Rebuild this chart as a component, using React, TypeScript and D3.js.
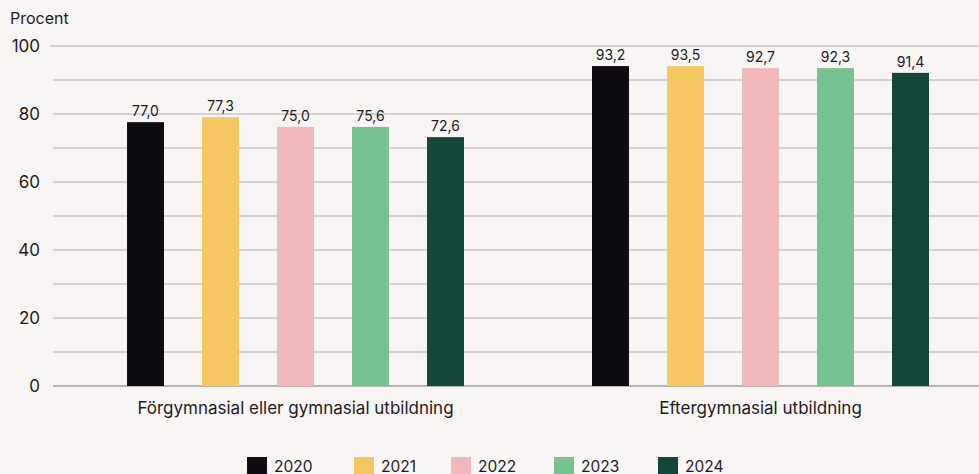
import React, {FC, useEffect} from "react";
import * as d3 from "d3";

const categories = ["Förgymnasial eller gymnasial utbildning", "Eftergymnasial utbildning"];
const years = ["2020", "2021", "2022", "2023", "2024"];
// printed value labels
const labels2020 = [77.0, 93.2];
const labels2021 = [77.3, 93.5];
const labels2022 = [75.0, 92.7];
const labels2023 = [75.6, 92.3];
const labels2024 = [72.6, 91.4];
// bar heights as drawn in the picture (they do not match the labels exactly)
const bars2020 = [77.6, 94.1];
const bars2021 = [79.1, 94.1];
const bars2022 = [76.2, 93.5];
const bars2023 = [76.2, 93.5];
const bars2024 = [73.2, 92.1];
const yTicks = [0, 20, 40, 60, 80, 100];

const colors = ["#0e0c10", "#f6c862", "#f1b9bb", "#78c291", "#12473a"];

const labels = [labels2020, labels2021, labels2022, labels2023, labels2024];
const bars = [bars2020, bars2021, bars2022, bars2023, bars2024];

const width = 979;
const height = 474;
const font = "Inter, 'Noto Sans', sans-serif";
const textColor = "#1d1b1e";
const legendX = [247, 354, 451, 554, 658];

const fmt = (v: number) => v.toFixed(1).replace(".", ",");

const Chart: FC = () => {
    const yScale = d3.scaleLinear().domain([0, 100]).range([386, 46]);

    const x0 = d3.scaleBand().domain(categories).range([63, 993]).padding(0);
    const x1 = d3
        .scaleBand()
        .domain(years)
        .range([45, 420])
        .paddingInner(0.507)
        .paddingOuter(0.2535);

    const gridValues = d3.range(0, 101, 10);

    return (
        <svg width={width} height={height} style={{display: "block", background: "#f8f5f4"}}>
            <text x={10} y={24} fontFamily={font} fontSize={16} fill={textColor}>Procent</text>

            {gridValues.map(v => (
                <line
                    key={v}
                    x1={v === 100 ? 50 : 53}
                    x2={width}
                    y1={yScale(v)}
                    y2={yScale(v)}
                    stroke={v === 0 ? "#a09d9e" : "#b3b0b1"}
                    strokeWidth={v === 0 ? 1.5 : 1.2}
                />
            ))}
            {yTicks.map(v => (
                <text key={v} x={40} y={yScale(v) + 6} textAnchor="end"
                      fontFamily={font} fontSize={17} fill={textColor}>{v}</text>
            ))}

            {categories.map((c, ci) => (
                <g key={c} transform={`translate(${x0(c)},0)`}>
                    {years.map((yr, yi) => {
                        const v = bars[yi][ci];
                        const bx = x1(yr)!;
                        return (
                            <g key={yr}>
                                <rect x={bx} y={yScale(v)} width={x1.bandwidth()}
                                      height={yScale(0) - yScale(v)} fill={colors[yi]}/>
                                <text x={bx + x1.bandwidth() / 2} y={yScale(v) - 6}
                                      textAnchor="middle" fontFamily={font} fontSize={14}
                                      fill={textColor}>{fmt(labels[yi][ci])}</text>
                            </g>
                        );
                    })}
                    <text x={x0.bandwidth() / 2} y={414} textAnchor="middle"
                          fontFamily={font} fontSize={17} fill={textColor}>{c}</text>
                </g>
            ))}

            {years.map((yr, i) => (
                <g key={yr} transform={`translate(${legendX[i]},457)`}>
                    <rect x={0} y={0} width={20} height={20} fill={colors[i]}/>
                    <text x={27} y={14.5} fontFamily={font} fontSize={15.5} fill={textColor}>{yr}</text>
                </g>
            ))}
        </svg>
    );
};

export default function App() {
    useEffect(() => {
        document.body.style.margin = "0";
    }, []);
    return <Chart/>;
}
